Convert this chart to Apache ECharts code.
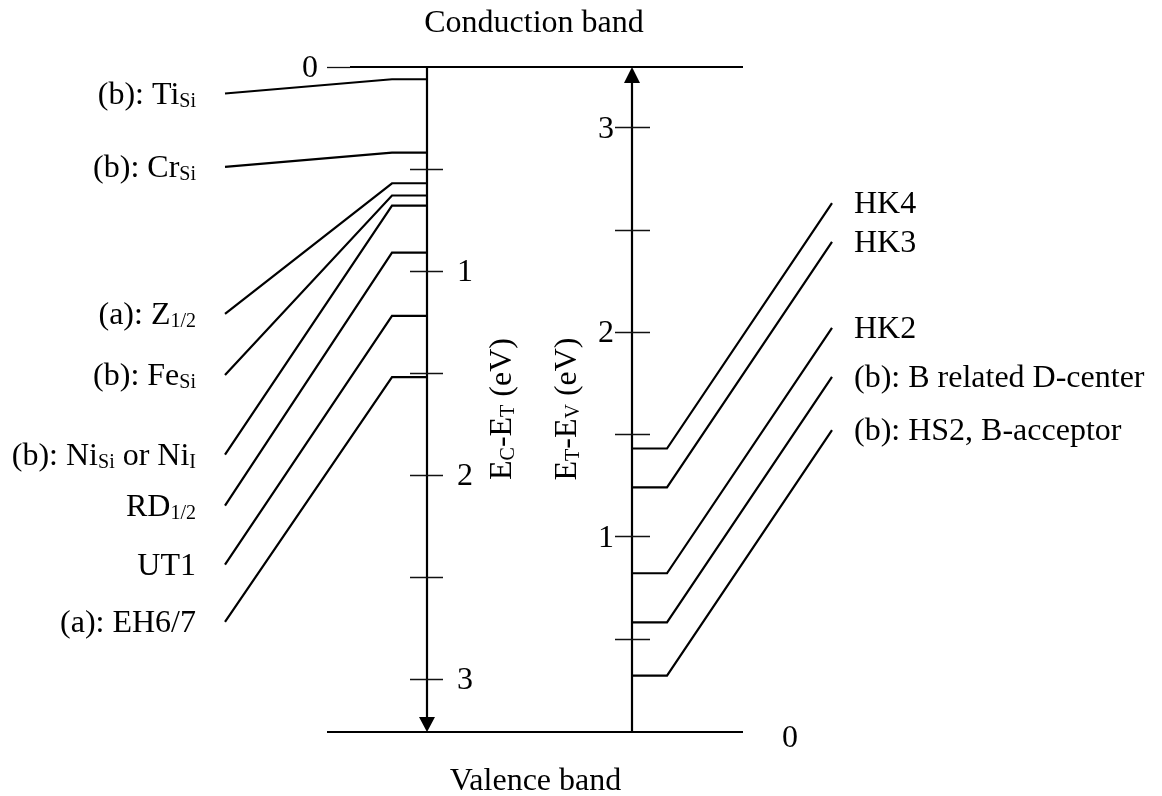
<!DOCTYPE html>
<html>
<head>
<meta charset="utf-8">
<title>Deep levels in 4H-SiC</title>
<script src="https://cdn.jsdelivr.net/npm/echarts@6/dist/echarts.min.js"></script>
<style>
  html, body { margin: 0; padding: 0; background: #fff; }
  #chart { width: 1162px; height: 796px; }
</style>
</head>
<body>
<div id="chart"></div>
<script>
// ---- data -------------------------------------------------------------
const bandGap = 3.26;                       // eV, conduction to valence band edge

// levels measured from the conduction band (E_C - E_T, eV)
const leftNames = [
  '{m|(b): Ti}{s|Si}',
  '{m|(b): Cr}{s|Si}',
  '{m|(a): Z}{s|1/2}',
  '{m|(b): Fe}{s|Si}',
  '{m|(b): Ni}{s|Si}{m| or Ni}{s|I}',
  '{m|RD}{s|1/2}',
  '{m|UT1}',
  '{m|(a): EH6/7}'
];
const leftLevels = [0.06, 0.42, 0.57, 0.63, 0.68, 0.91, 1.22, 1.52];
// where each leader line meets its label, on the same E_C - E scale
const leftLabelAnchors = [0.13, 0.49, 1.21, 1.51, 1.90, 2.15, 2.44, 2.72];

// levels measured from the valence band (E_T - E_V, eV)
const rightNames = [
  '{m|HK4}',
  '{m|HK3}',
  '{m|HK2}',
  '{m|(b): B related D-center}',
  '{m|(b): HS2, B-acceptor}'
];
const rightLevels = [1.43, 1.24, 0.82, 0.58, 0.32];

// axis ticks
const leftTickValues  = [0, 0.5, 1, 1.5, 2, 2.5, 3];
const leftTickLabels  = ['0', '', '1', '', '2', '', '3'];
const rightTickValues = [0, 0.5, 1, 1.5, 2, 2.5, 3];
const rightTickLabels = ['0', '', '1', '', '2', '', '3'];
const rightScaleMax = 3.3;

// ---- layout -----------------------------------------------------------
const FONT = "'Liberation Serif', 'Times New Roman', serif";
const X = {
  bandStart: 327, cbStart: 350, bandEnd: 743,
  leftAxis: 427, leftStub: 392, leftLeader: 225, leftLabel: 196,
  leftTick: [410, 443], leftTickLabel: 457, leftZeroLabel: 318,
  rightAxis: 632, rightStub: 667, rightLeader: 832, rightLabel: 854,
  rightTick: [615, 650], rightTickLabel: 614, rightZeroLabel: 782
};
const leaderRise = 1.2;   // right-hand leaders climb by this much (E_T - E_V units)
const textDy = 2;
const rich = {
  m: { font: '32px ' + FONT, fontSize: 32, fontFamily: FONT, fill: '#000', verticalAlign: 'bottom' },
  s: { font: '20px ' + FONT, fontSize: 20, fontFamily: FONT, fill: '#000', verticalAlign: 'bottom' }
};
function richText(x, y, text, align, extra) {
  return Object.assign({
    type: 'text', x: x, y: y,
    style: { text: text, rich: rich, align: align, verticalAlign: 'middle', font: '32px ' + FONT, fill: '#000' }
  }, extra || {});
}
const LW = 2.2;
const tickStyle = { stroke: '#111', lineWidth: 1.3 };
// snap thin tick strokes onto the pixel grid so they stay crisp
const crisp = (y) => Math.round(y) + 0.5;

// ---- chart ------------------------------------------------------------
const chart = echarts.init(document.getElementById('chart'), null, { renderer: 'canvas' });

const option = {
  animation: false,
  backgroundColor: '#fff',
  grid: [
    { left: 0, right: 0, top: 67, bottom: 64 },   // E_C - E scale
    { left: 0, right: 0, top: 66, bottom: 55 }    // E - E_V scale
  ],
  xAxis: [
    { type: 'value', gridIndex: 0, min: 0, max: 1162, show: false },
    { type: 'value', gridIndex: 1, min: 0, max: 1162, show: false }
  ],
  yAxis: [
    { type: 'value', gridIndex: 0, min: 0, max: bandGap, inverse: true, show: false },
    { type: 'value', gridIndex: 1, min: 0, max: rightScaleMax, show: false }
  ],
  graphic: [
    richText(534, 23.5, '{m|Conduction band}', 'center'),
    richText(535.5, 782, '{m|Valence band}', 'center'),
    richText(502.5, 409, '{m|E}{s|C}{m|-E}{s|T}{m| (eV)}', 'center', { rotation: Math.PI / 2 }),
    richText(567.5, 409, '{m|E}{s|T}{m|-E}{s|V}{m| (eV)}', 'center', { rotation: Math.PI / 2 })
  ],
  series: [
    // band edges and the two energy axes
    {
      type: 'custom', coordinateSystem: 'cartesian2d', xAxisIndex: 0, yAxisIndex: 0,
      clip: false, silent: true,
      data: [[0, 0]],
      renderItem: function (params, api) {
        const c = (x, e) => api.coord([x, e]);
        const stroke = { stroke: '#000', lineWidth: LW };
        const cb = c(X.cbStart, 0), cbEnd = c(X.bandEnd, 0);
        const vb = c(X.bandStart, bandGap), vbEnd = c(X.bandEnd, bandGap);
        const la0 = c(X.leftAxis, 0), la1 = c(X.leftAxis, bandGap);
        const ra0 = c(X.rightAxis, 0), ra1 = c(X.rightAxis, bandGap);
        const ah = 15, aw = 8;
        return {
          type: 'group',
          children: [
            { type: 'line', shape: { x1: cb[0], y1: cb[1], x2: cbEnd[0], y2: cbEnd[1] }, style: stroke },
            { type: 'line', shape: { x1: vb[0], y1: vb[1], x2: vbEnd[0], y2: vbEnd[1] }, style: stroke },
            { type: 'line', shape: { x1: la0[0], y1: la0[1], x2: la1[0], y2: la1[1] - ah }, style: stroke },
            { type: 'polygon', shape: { points: [[la1[0], la1[1]], [la1[0] - aw, la1[1] - ah], [la1[0] + aw, la1[1] - ah]] }, style: { fill: '#000' } },
            { type: 'line', shape: { x1: ra1[0], y1: ra1[1], x2: ra0[0], y2: ra0[1] + ah }, style: stroke },
            { type: 'polygon', shape: { points: [[ra0[0], ra0[1]], [ra0[0] - aw, ra0[1] + ah + 1], [ra0[0] + aw, ra0[1] + ah + 1]] }, style: { fill: '#000' } }
          ]
        };
      }
    },
    // ticks of the E_C - E_T axis
    {
      type: 'custom', coordinateSystem: 'cartesian2d', xAxisIndex: 0, yAxisIndex: 0,
      clip: false, silent: true,
      data: leftTickValues.map((v, i) => [v, i]),
      renderItem: function (params, api) {
        const v = api.value(0), i = api.value(1);
        const y = api.coord([0, v])[1];
        const label = leftTickLabels[i];
        const zero = v === 0;
        const tx = zero ? [X.bandStart, X.cbStart] : X.leftTick;
        const children = [
          { type: 'line', shape: { x1: tx[0], y1: crisp(y), x2: tx[1], y2: crisp(y) }, style: tickStyle }
        ];
        if (label) {
          children.push(zero
            ? richText(X.leftZeroLabel, y + textDy, '{m|' + label + '}', 'right')
            : richText(X.leftTickLabel, y + textDy, '{m|' + label + '}', 'left'));
        }
        return { type: 'group', children: children };
      }
    },
    // ticks of the E_T - E_V axis
    {
      type: 'custom', coordinateSystem: 'cartesian2d', xAxisIndex: 1, yAxisIndex: 1,
      clip: false, silent: true,
      data: rightTickValues.map((v, i) => [v, i]),
      renderItem: function (params, api) {
        const v = api.value(0), i = api.value(1);
        const y = api.coord([0, v])[1];
        const label = rightTickLabels[i];
        const children = [];
        if (v === 0) {
          children.push(richText(X.rightZeroLabel, y - 2, '{m|' + label + '}', 'left'));
        } else {
          children.push({ type: 'line', shape: { x1: X.rightTick[0], y1: crisp(y), x2: X.rightTick[1], y2: crisp(y) }, style: tickStyle });
          if (label) children.push(richText(X.rightTickLabel, y + textDy, '{m|' + label + '}', 'right'));
        }
        return { type: 'group', children: children };
      }
    },
    // defect levels below the conduction band
    {
      type: 'custom', coordinateSystem: 'cartesian2d', xAxisIndex: 0, yAxisIndex: 0,
      clip: false, silent: true,
      data: leftLevels.map((e, i) => [e, leftLabelAnchors[i], i]),
      renderItem: function (params, api) {
        const e = api.value(0), a = api.value(1), i = api.value(2);
        const p0 = api.coord([X.leftLeader, a]);
        const p1 = api.coord([X.leftStub, e]);
        const p2 = api.coord([X.leftAxis, e]);
        return {
          type: 'group',
          children: [
            { type: 'polyline', shape: { points: [p0, p1, p2] }, style: { stroke: '#000', lineWidth: LW, fill: null, lineJoin: 'miter' } },
            richText(X.leftLabel, p0[1] + textDy, leftNames[i], 'right')
          ]
        };
      }
    },
    // defect levels above the valence band
    {
      type: 'custom', coordinateSystem: 'cartesian2d', xAxisIndex: 1, yAxisIndex: 1,
      clip: false, silent: true,
      data: rightLevels.map((e, i) => [e, i]),
      renderItem: function (params, api) {
        const e = api.value(0), i = api.value(1);
        const p0 = api.coord([X.rightAxis, e]);
        const p1 = api.coord([X.rightStub, e]);
        const p2 = api.coord([X.rightLeader, e + leaderRise]);
        return {
          type: 'group',
          children: [
            { type: 'polyline', shape: { points: [p0, p1, p2] }, style: { stroke: '#000', lineWidth: LW, fill: null, lineJoin: 'miter' } },
            richText(X.rightLabel, p2[1] + textDy, rightNames[i], 'left')
          ]
        };
      }
    }
  ]
};

chart.setOption(option);
</script>
</body>
</html>
